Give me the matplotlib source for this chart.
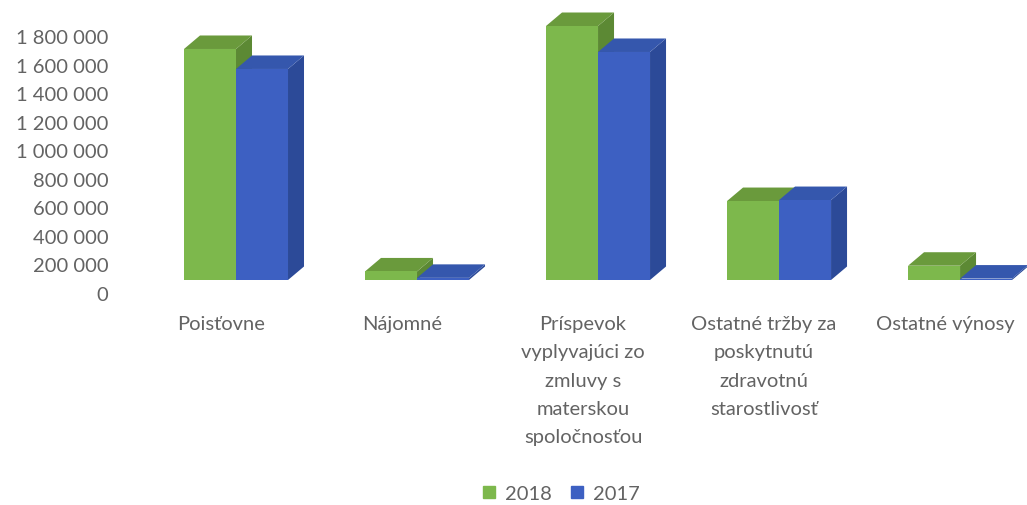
import matplotlib.pyplot as plt
from matplotlib.patches import Polygon
from matplotlib.lines import Line2D

categories = ["Poisťovne", "Nájomné", "Príspevok\nvyplyvajúci zo\nzmluvy s\nmaterskou\nspoločnosťou",
              "Ostatné tržby za\nposkytnutú\nzdravotnú\nstarostlivosť", "Ostatné výnosy"]
v2018 = [1618000, 60000, 1779000, 553000, 100000]
v2017 = [1478000, 15000, 1597000, 560000, 10000]
yticks = [0, 200000, 400000, 600000, 800000, 1000000, 1200000, 1400000, 1600000, 1800000]
series = [("2018", v2018), ("2017", v2017)]

# front, top, side colours for each series
colors = {
    "2018": ("#7db84c", "#6a9a3c", "#5c8934"),
    "2017": ("#3d60c2", "#3557ad", "#2c4a98"),
}

text_c = '#636363'
font = 'Lato'

W, H = 1027, 506
fig = plt.figure(figsize=(W / 100, H / 100), dpi=100)
ax = fig.add_axes([130.5 / W, (H - 294) / H, (1026.5 - 130.5) / W, 257 / H])
ax.set_xlim(-0.5, 4.45)
ax.set_ylim(0, 1800000)

px_x = 1 / 181.0            # data units per pixel on x
px_y = 1800000 / 257.0      # data units per pixel on y
bw = 52 * px_x              # bar width
shift = 15 * px_x           # pair centre to the right of the label
ddx = 16 * px_x             # depth offset
ddy = 13.5 * px_y
floor = 13 * px_y           # front faces start a bit above the 0 label


def bar3d(x0, h, cf, ct, cs):
    y0 = floor
    y1 = floor + h
    front = Polygon([(x0, y0), (x0 + bw, y0), (x0 + bw, y1), (x0, y1)], closed=True,
                    fc=cf, ec='none', clip_on=False)
    top = Polygon([(x0, y1), (x0 + bw, y1), (x0 + bw + ddx, y1 + ddy), (x0 + ddx, y1 + ddy)],
                  closed=True, fc=ct, ec='none', clip_on=False)
    side = Polygon([(x0 + bw, y0), (x0 + bw + ddx, y0 + ddy), (x0 + bw + ddx, y1 + ddy), (x0 + bw, y1)],
                   closed=True, fc=cs, ec='none', clip_on=False)
    ax.add_patch(side)
    ax.add_patch(top)
    ax.add_patch(front)


for i in range(len(categories)):
    for k, (name, vals) in enumerate(series):
        x0 = i + shift - bw + k * bw
        bar3d(x0, vals[i], *colors[name])

for s in ax.spines.values():
    s.set_visible(False)

ax.set_yticks(yticks)
ax.set_yticklabels([f"{v:,}".replace(",", " ") for v in yticks], fontname=font, fontsize=14.5, color=text_c)
ax.set_xticks(range(len(categories)))
ax.set_xticklabels(categories, fontname=font, fontsize=14.5, color=text_c, linespacing=1.8, va='top')
ax.tick_params(axis='y', length=0, pad=16)
ax.tick_params(axis='x', length=0, pad=16)

handles = [Line2D([], [], marker='s', ls='none', color=colors[n][0], markersize=9) for n, _ in series]
fig.legend(handles, [n for n, _ in series], loc='center', bbox_to_anchor=(561 / W, 1 - 494 / H),
           ncol=2, frameon=False, handlelength=0.7, handletextpad=0.45, columnspacing=0.9,
           prop={'family': font, 'size': 14.5}, labelcolor=text_c)

plt.savefig("out.png", dpi=100)
